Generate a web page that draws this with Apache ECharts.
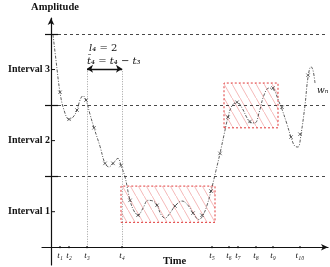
<!DOCTYPE html>
<html>
<head>
<meta charset="utf-8">
<script src="https://cdn.jsdelivr.net/npm/echarts@6.0.0/dist/echarts.min.js"></script>
<style>
  html, body { margin: 0; padding: 0; background: #fff; }
  #chart { width: 330px; height: 267px; }
</style>
</head>
<body>
<div id="chart"></div>
<script>
// signal curve
const curveX = [0.2, 0.5, 0.9, 1.3, 1.8, 2.2, 2.6, 2.9, 3.2, 3.5, 3.9, 4.3, 4.9, 5.4, 5.8, 6.2, 6.7, 7.0, 7.4, 7.9,
  8.3, 8.7, 9.2, 9.7, 10.2, 10.6, 11.0, 11.4, 11.9, 12.4, 13.1, 13.7, 14.2, 14.8, 15.2, 15.6, 16.0, 16.5, 16.9, 17.3,
  17.7, 18.1, 18.6, 19.1, 19.6, 20.0, 20.4, 20.8, 21.3, 21.8, 22.3, 22.7, 23.1, 23.6, 24.0, 24.4, 24.7, 25.0, 25.4,
  25.7, 26.0, 26.2, 26.4];
const curveY = [2.99, 2.63, 2.18, 1.93, 1.80, 1.83, 1.93, 2.07, 2.13, 2.07, 1.87, 1.68, 1.42, 1.18, 1.13, 1.18, 1.25, 1.15, 0.99, 0.66,
  0.51, 0.45, 0.55, 0.66, 0.65, 0.59, 0.46, 0.41, 0.48, 0.58, 0.65, 0.59, 0.48, 0.39, 0.45, 0.59, 0.79, 1.08, 1.32, 1.58,
  1.83, 1.99, 2.04, 1.96, 1.82, 1.75, 1.75, 1.89, 2.14, 2.24, 2.21, 2.08, 1.94, 1.73, 1.55, 1.42, 1.41, 1.59, 2.00,
  2.39, 2.54, 2.49, 2.31];

// sample markers (x crosses)
const markX = [0.9, 1.8, 2.6, 3.5, 4.3, 5.4, 6.2, 7.0, 7.9, 8.7, 10.6, 12.4, 14.2, 15.1, 16.0, 16.9, 17.7, 18.6, 19.9, 22.2, 23.1, 24.0, 24.9, 25.7];
const markY = [2.18, 1.80, 1.93, 2.07, 1.68, 1.18, 1.18, 1.15, 0.66, 0.45, 0.59, 0.58, 0.48, 0.45, 0.79, 1.32, 1.83, 2.04, 1.77, 2.24, 1.97, 1.55, 1.59, 2.42];

// time ticks
const tickVals = [0.9, 1.8, 3.6, 7.1, 16.1, 17.8, 18.7, 20.5, 22.2, 24.9];
const tickNames = ['t₁', 't₂', 't₃', 't₄', 't₅', 't₆', 't₇', 't₈', 't₉', 't₁₀'];

// amplitude intervals
const levelVals = [1, 2, 3];
const intervalVals = [0.5, 1.5, 2.5];
const intervalNames = ['Interval 1', 'Interval 2', 'Interval 3'];

// hatched windows [x0, y0, x1, y1]
const boxA = [7.0, 0.35, 16.4, 0.86];
const boxB = [17.3, 1.68, 22.7, 2.31];

// annotation between t3 and t4
const spanStart = 3.6, spanEnd = 7.1, spanLevel = 2.51;

const serif = "'Liberation Serif', 'DejaVu Serif', serif";
const mathFont = "'DejaVu Serif', serif";

function hatch() {
  const c = document.createElement('canvas');
  c.width = 8; c.height = 14;
  const g = c.getContext('2d');
  g.strokeStyle = 'rgba(236,120,120,0.75)';
  g.lineWidth = 0.7;
  g.beginPath();
  g.moveTo(-8, -14); g.lineTo(16, 28);
  g.stroke();
  return c;
}

const chart = echarts.init(document.getElementById('chart'), null, { renderer: 'canvas' });

const levelLines = [];
levelVals.forEach(v => {
  levelLines.push([
    { coord: [-0.6, v], lineStyle: { type: 'solid', width: 1.2, color: '#111' } },
    { coord: [0.7, v] }
  ]);
  levelLines.push([
    { coord: [0.7, v], lineStyle: { type: [3, 3], width: 0.9, color: '#333' } },
    { coord: [27.7, v] }
  ]);
});
[spanStart, spanEnd].forEach(x => {
  levelLines.push([
    { coord: [x, 0], lineStyle: { type: [1, 1.5], width: 0.7, color: '#777' } },
    { coord: [x, spanLevel] }
  ]);
});
levelLines.push([
  { coord: [spanStart, spanLevel], symbol: 'arrow', lineStyle: { type: 'solid', width: 1.4, color: '#111' } },
  { coord: [spanEnd, spanLevel], symbol: 'arrow' }
]);

const hatchColor = { image: hatch(), repeat: 'repeat' };
const boxStyle = { color: hatchColor, borderColor: '#e03a3a', borderWidth: 1, borderType: [2, 2] };

// tick labels placed on the zero lines
const axisMarks = [];
tickVals.forEach((v, i) => {
  axisMarks.push({
    coord: [v, 0], symbol: 'circle', symbolSize: 2.2,
    itemStyle: { color: '#111' },
    label: { show: true, position: 'bottom', distance: 3, formatter: tickNames[i],
      fontFamily: serif, fontStyle: 'italic', fontSize: 9, color: '#111' }
  });
});
intervalVals.forEach((v, i) => {
  axisMarks.push({
    coord: [0, v], symbol: 'rect', symbolSize: [4, 1], symbolOffset: [2, 0],
    itemStyle: { color: '#111' },
    label: { show: true, position: 'left', distance: 1, formatter: intervalNames[i],
      fontFamily: serif, fontWeight: 'bold', fontSize: 10, color: '#111' }
  });
});

const mathRich = { i: { fontStyle: 'italic', fontFamily: mathFont, fontSize: 10 } };

const option = {
  animation: false,
  grid: { left: 42, right: 2, top: 18, bottom: 2, containLabel: false, outerBoundsMode: 'none' },
  xAxis: {
    type: 'value', min: -0.9, max: 27.7,
    axisLine: { onZero: true, symbol: ['none', 'arrow'], symbolSize: [5, 7], lineStyle: { color: '#111', width: 1.2 } },
    axisTick: { show: false },
    axisLabel: { show: false },
    splitLine: { show: false }
  },
  yAxis: {
    type: 'value', min: -0.25, max: 3.225,
    name: 'Amplitude', nameLocation: 'end', nameGap: 5,
    nameTextStyle: { fontFamily: serif, fontWeight: 'bold', fontSize: 10.5, color: '#111', align: 'center', padding: [0, 0, 0, 8] },
    axisLine: { onZero: true, symbol: ['none', 'arrow'], symbolSize: [5, 7], lineStyle: { color: '#111', width: 1.2 } },
    axisTick: { show: false },
    axisLabel: { show: false },
    splitLine: { show: false }
  },
  series: [
    {
      type: 'line',
      data: curveX.map((x, i) => [x, curveY[i]]),
      smooth: 0.4,
      showSymbol: false,
      lineStyle: { color: '#333', width: 0.8, type: [3, 1.5, 1, 1.5] },
      markArea: {
        silent: true,
        itemStyle: boxStyle,
        data: [
          [{ coord: [boxA[0], boxA[1]] }, { coord: [boxA[2], boxA[3]] }],
          [{ coord: [boxB[0], boxB[1]] }, { coord: [boxB[2], boxB[3]] }]
        ]
      },
      markLine: {
        silent: true,
        symbol: 'none',
        symbolSize: 6,
        label: { show: false },
        data: levelLines
      },
      markPoint: {
        silent: true,
        symbol: 'circle',
        symbolSize: 0,
        label: {
          show: true, position: 'right', distance: 0,
          fontFamily: mathFont, fontSize: 10, color: '#111'
        },
        data: [
          { coord: [3.8, 2.80], label: { formatter: '{i|l₄} = 2', rich: mathRich } },
          { coord: [3.6, 2.62], label: { formatter: '{i|t\u0304₄} = {i|t₄} − {i|t₃}', rich: mathRich } },
          { coord: [26.6, 2.20], label: { formatter: 'wₙ', fontStyle: 'italic', fontSize: 9 } }
        ]
      }
    },
    {
      type: 'scatter',
      data: markX.map((x, i) => [x, markY[i]]),
      symbol: 'path://M0,0L4,4M4,0L0,4',
      symbolSize: 3.5,
      itemStyle: { color: 'none', borderColor: '#222', borderWidth: 0.8 },
      z: 3,
      markPoint: { silent: true, data: axisMarks }
    }
  ],
  graphic: [
    { type: 'text', left: 163, top: 256, style: { text: 'Time', font: "bold 10.5px 'Liberation Serif', serif", fill: '#111' } }
  ]
};

chart.setOption(option);
</script>
</body>
</html>
